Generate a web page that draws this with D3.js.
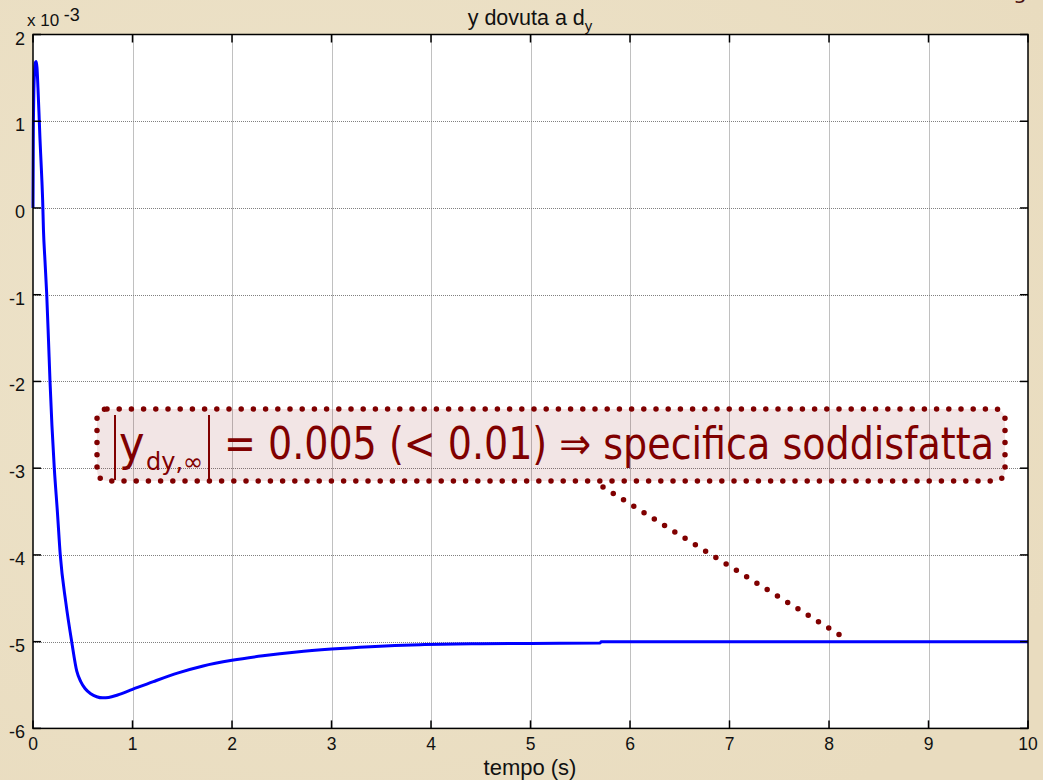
<!DOCTYPE html>
<html>
<head>
<meta charset="utf-8">
<script src="https://cdn.jsdelivr.net/npm/d3@7"></script>
<style>
  body { margin: 0; background: #ebdfc3; }
  svg { display: block; }
</style>
</head>
<body>
<div id="chart"></div>
<script>
// time (s) and y due to d_y (units of 1e-3)
const timeS = [0, 0.003, 0.008, 0.015, 0.025, 0.032, 0.04, 0.05, 0.06, 0.07, 0.08, 0.09, 0.097,
  0.105, 0.12, 0.138, 0.155, 0.171, 0.19, 0.214, 0.245, 0.274, 0.33, 0.389, 0.44, 0.48, 0.523,
  0.58, 0.64, 0.7, 0.76, 0.85, 1.0, 1.21, 1.46, 1.71, 2.0, 2.31, 2.65, 3.0, 3.39, 3.89, 4.5,
  5.0, 5.7, 5.71, 7, 8, 9, 10];
const yDy = [0, 0.8, 1.3, 1.55, 1.68, 1.69, 1.62, 1.38, 1.1, 0.8, 0.55, 0.3, 0.09,
  -0.25, -0.6, -1.0, -1.5, -2.0, -2.5, -3.0, -3.5, -4.0, -4.55, -5.0, -5.34, -5.46, -5.54,
  -5.6, -5.635, -5.648, -5.643, -5.615, -5.55, -5.46, -5.36, -5.28, -5.215, -5.163, -5.118, -5.085, -5.058, -5.035, -5.024,
  -5.02, -5.015, -5.0, -5.0, -5.0, -5.0, -5.0];

const xTicks = [0, 1, 2, 3, 4, 5, 6, 7, 8, 9, 10];
const yTicks = [2, 1, 0, -1, -2, -3, -4, -5, -6];

const W = 1043, H = 780;
const pL = 33, pR = 1028, pT = 34.5, pB = 728.4;
const darkRed = '#800000';

const svg = d3.select('#chart').append('svg')
  .attr('width', W).attr('height', H);

// parchment background
const defs = svg.append('defs');
const rg = defs.append('radialGradient').attr('id', 'bg').attr('cx', '30%').attr('cy', '40%').attr('r', '80%');
rg.append('stop').attr('offset', '0%').attr('stop-color', '#ede3ca');
rg.append('stop').attr('offset', '100%').attr('stop-color', '#e9dcbf');
svg.append('rect').attr('width', W).attr('height', H).attr('fill', 'url(#bg)');

const x = d3.scaleLinear().domain([0, 10]).range([pL, pR]);
const y = d3.scaleLinear().domain([-6, 2]).range([pB, pT]);

// plot area
svg.append('rect')
  .attr('x', pL).attr('y', pT)
  .attr('width', pR - pL).attr('height', pB - pT)
  .attr('fill', '#fff');

// grid
const grid = svg.append('g').attr('stroke', '#808080').attr('stroke-width', 1)
  .attr('stroke-dasharray', '1,1');
grid.selectAll('.gx').data(xTicks.slice(1, -1)).enter().append('line')
  .attr('x1', d => Math.round(x(d)) + 0.5).attr('x2', d => Math.round(x(d)) + 0.5)
  .attr('y1', pT).attr('y2', pB);
grid.selectAll('.gy').data(yTicks.slice(1, -1)).enter().append('line')
  .attr('y1', d => Math.round(y(d)) + 0.5).attr('y2', d => Math.round(y(d)) + 0.5)
  .attr('x1', pL).attr('x2', pR);

// annotation box (under the curve, above grid)
const boxX0 = 97, boxX1 = 1005, boxY0 = 409, boxY1 = 481;
svg.append('rect')
  .attr('x', boxX0).attr('y', boxY0)
  .attr('width', boxX1 - boxX0).attr('height', boxY1 - boxY0)
  .attr('rx', 10)
  .attr('fill', 'rgba(128,0,0,0.1)')
  .attr('stroke', darkRed).attr('stroke-width', 5.5)
  .attr('stroke-linecap', 'round')
  .attr('stroke-dasharray', '0 12.2');

// connector
svg.append('line')
  .attr('x1', 603).attr('y1', 487).attr('x2', 843).attr('y2', 637)
  .attr('stroke', darkRed).attr('stroke-width', 5.5)
  .attr('stroke-linecap', 'round')
  .attr('stroke-dasharray', '0 12.1');

// curve
const pts = timeS.map((t, i) => [t, yDy[i]]);
svg.append('path')
  .datum(pts)
  .attr('fill', 'none')
  .attr('stroke', '#0000ff')
  .attr('stroke-width', 3)
  .attr('stroke-linejoin', 'round')
  .attr('d', d3.line().x(d => x(d[0])).y(d => y(d[1])).curve(d3.curveMonotoneX));

// box & ticks
const ax = svg.append('g').attr('stroke', '#000').attr('stroke-width', 1.5).attr('fill', 'none');
ax.append('rect').attr('x', pL).attr('y', pT)
  .attr('width', pR - pL).attr('height', pB - pT);
const tk = 8;
xTicks.forEach(d => {
  ax.append('line').attr('x1', x(d)).attr('x2', x(d)).attr('y1', pB).attr('y2', pB - tk);
  ax.append('line').attr('x1', x(d)).attr('x2', x(d)).attr('y1', pT).attr('y2', pT + tk);
});
yTicks.forEach(d => {
  ax.append('line').attr('x1', pL).attr('x2', pL + tk).attr('y1', y(d)).attr('y2', y(d));
  ax.append('line').attr('x1', pR).attr('x2', pR - tk).attr('y1', y(d)).attr('y2', y(d));
});

// tick labels
const font = 'Liberation Sans, Arial, sans-serif';
svg.selectAll('.xl').data(xTicks).enter().append('text')
  .attr('x', d => x(d)).attr('y', 750)
  .attr('text-anchor', 'middle')
  .attr('font-family', font).attr('font-size', 17.5).attr('fill', '#111')
  .text(d => d);
svg.selectAll('.yl').data(yTicks).enter().append('text')
  .attr('x', 25).attr('y', d => y(d) + 10)
  .attr('text-anchor', 'end')
  .attr('font-family', font).attr('font-size', 18).attr('fill', '#111')
  .text(d => d);

// exponent label
const ex = svg.append('text').attr('x', 27).attr('y', 26)
  .attr('font-family', font).attr('font-size', 17).attr('fill', '#111');
ex.append('tspan').text('x 10 ');
ex.append('tspan').attr('dy', -5).attr('font-size', 18).text('-3');

// title
const ti = svg.append('text').attr('x', 530).attr('y', 25)
  .attr('text-anchor', 'middle')
  .attr('font-family', font).attr('font-size', 21.5).attr('fill', '#111');
ti.append('tspan').text('y dovuta a d');
ti.append('tspan').attr('dy', 6).attr('font-size', 15).text('y');

// x label
svg.append('text').attr('x', 530).attr('y', 775)
  .attr('text-anchor', 'middle')
  .attr('font-family', font).attr('font-size', 22).attr('fill', '#111')
  .text('tempo (s)');

// cut-off slide text top right
svg.append('text').attr('x', 1013).attr('y', -1)
  .attr('font-family', 'DejaVu Sans, sans-serif').attr('font-size', 22).attr('fill', '#4a1010')
  .text('g');

// annotation text
const afont = 'DejaVu Sans Condensed, DejaVu Sans, sans-serif';
svg.append('line').attr('x1', 115).attr('x2', 115).attr('y1', 415).attr('y2', 480)
  .attr('stroke', darkRed).attr('stroke-width', 2);
svg.append('line').attr('x1', 209).attr('x2', 209).attr('y1', 415).attr('y2', 480)
  .attr('stroke', darkRed).attr('stroke-width', 2);
svg.append('text').attr('x', 119).attr('y', 460)
  .attr('font-family', afont).attr('font-size', 48).attr('fill', darkRed)
  .text('y');
svg.append('text').attr('x', 146).attr('y', 470)
  .attr('font-family', afont).attr('font-size', 24).attr('fill', darkRed)
  .attr('textLength', 57).attr('lengthAdjust', 'spacingAndGlyphs')
  .text('dy,\u221E');
svg.append('text').attr('x', 224).attr('y', 459)
  .attr('font-family', afont).attr('font-size', 44).attr('fill', darkRed)
  .attr('textLength', 770).attr('lengthAdjust', 'spacingAndGlyphs')
  .text('= 0.005 (< 0.01) \u21D2 specifica soddisfatta');
</script>
</body>
</html>
